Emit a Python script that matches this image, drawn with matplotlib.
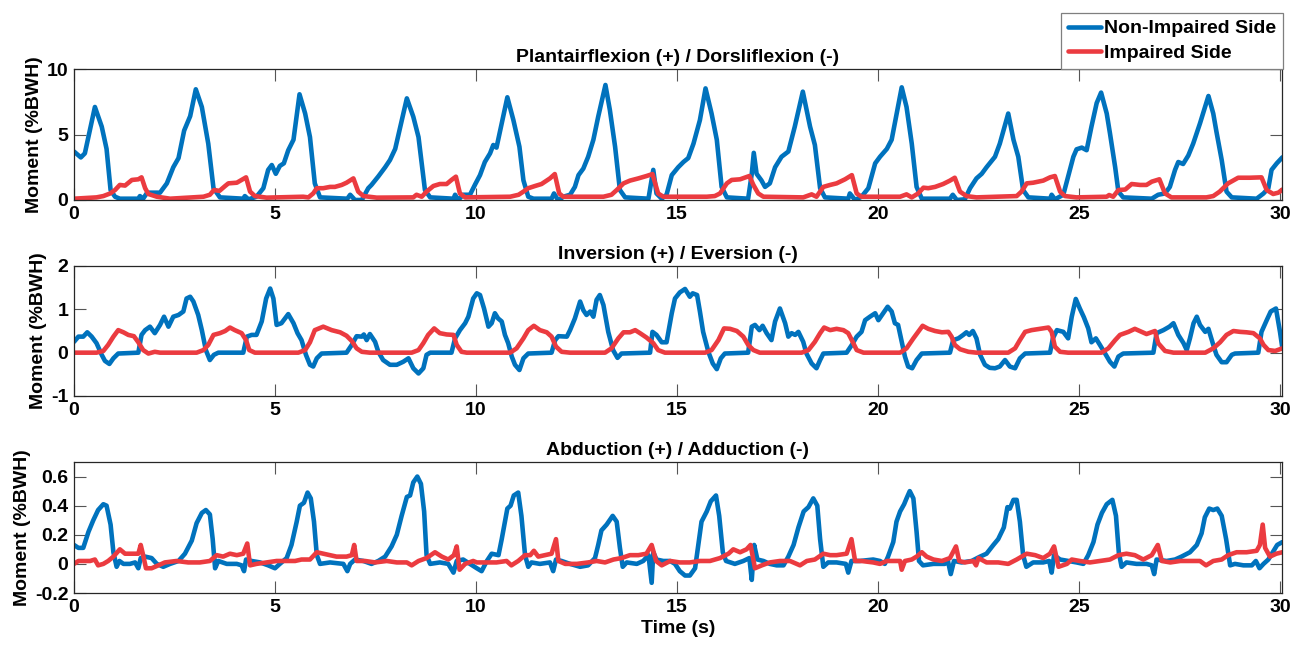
import numpy as np
import matplotlib
matplotlib.use('Agg')
from matplotlib import pyplot as plt

# values: (time [s], moment [%BWH])
pf_non = [(0, 3.7), (0.17, 3.25), (0.27, 3.56), (0.52, 7.1), (0.69, 5.6), (0.81, 3.9), (0.91, 0.76), (1.02, 0.25),
          (1.14, 0.1), (1.6, 0.1), (1.64, 0.3), (1.72, 0.1), (1.82, 0.56), (2.14, 0.56), (2.31, 1.27), (2.47, 2.5),
          (2.6, 3.2), (2.74, 5.3), (2.89, 6.4), (3.03, 8.45), (3.18, 7.1), (3.34, 4.3), (3.47, 0.9), (3.63, 0.2),
          (4.21, 0.1), (4.25, 0.3), (4.34, 0.05), (4.54, 0.25), (4.71, 0.9), (4.83, 2.3), (4.92, 2.67), (5.02, 2.0),
          (5.12, 2.6), (5.22, 2.8), (5.33, 3.8), (5.46, 4.6), (5.61, 8.07), (5.75, 6.6), (5.87, 4.8), (5.99, 1.27),
          (6.12, 0.2), (6.8, 0.1), (6.87, 0.4), (6.99, 0.0), (7.16, 0.0), (7.32, 0.9), (7.4, 1.15), (7.57, 1.8),
          (7.74, 2.5), (7.86, 3.05), (7.99, 3.9), (8.28, 7.76), (8.44, 6.36), (8.57, 4.8), (8.73, 0.76), (8.86, 0.2),
          (9.44, 0.1), (9.48, 0.4), (9.56, 0.0), (9.68, 0.4), (9.85, 0.4), (9.98, 1.2), (10.1, 1.9), (10.22, 2.9),
          (10.35, 3.56), (10.43, 4.2), (10.51, 4.0), (10.64, 5.85), (10.78, 7.84), (10.93, 6.1), (11.08, 4.07),
          (11.18, 1.5), (11.3, 0.25), (11.43, 0.1), (11.88, 0.1), (11.94, 0.5), (12.05, -0.05), (12.17, 0.25),
          (12.34, 0.4), (12.46, 1.0), (12.55, 1.9), (12.67, 2.4), (12.79, 3.3), (12.92, 4.6), (13.04, 6.36),
          (13.22, 8.78), (13.33, 6.87), (13.46, 4.07), (13.58, 0.76), (13.71, 0.2), (14.29, 0.1), (14.41, 2.3),
          (14.49, 0.5), (14.62, 0.1), (14.74, 0.4), (14.87, 1.9), (15.03, 2.5), (15.16, 2.9), (15.28, 3.2),
          (15.41, 4.3), (15.57, 6.1), (15.71, 8.52), (15.86, 6.6), (15.99, 4.6), (16.11, 1.0), (16.24, 0.2),
          (16.77, 0.1), (16.86, 2.0), (16.91, 3.6), (16.98, 2.0), (17.1, 1.5), (17.19, 1.0), (17.31, 1.27),
          (17.44, 2.5), (17.6, 3.3), (17.77, 3.7), (17.93, 5.6), (18.13, 8.27), (18.31, 5.6), (18.43, 4.2),
          (18.56, 0.9), (18.68, 0.2), (19.26, 0.1), (19.3, 0.5), (19.43, 0.0), (19.59, 0.25), (19.76, 0.9),
          (19.93, 2.8), (20.05, 3.3), (20.22, 3.9), (20.34, 4.6), (20.45, 6.36), (20.59, 8.6), (20.71, 7.1),
          (20.84, 4.3), (20.96, 1.0), (21.09, 0.1), (21.79, 0.1), (21.86, 0.4), (21.96, 0.0), (22.16, 0.05),
          (22.29, 0.9), (22.45, 1.65), (22.58, 2.0), (22.7, 2.5), (22.91, 3.3), (23.03, 4.3), (23.24, 6.6),
          (23.37, 4.6), (23.49, 3.3), (23.61, 0.76), (23.74, 0.2), (24.28, 0.1), (24.32, 0.4), (24.4, 0.05),
          (24.61, 0.4), (24.73, 1.8), (24.86, 3.3), (24.94, 3.87), (25.07, 4.0), (25.19, 3.8), (25.31, 5.6),
          (25.44, 7.4), (25.55, 8.2), (25.69, 6.6), (25.77, 5.1), (25.9, 2.5), (25.98, 0.64), (26.1, 0.2),
          (26.81, 0.1), (26.97, 0.4), (27.14, 0.5), (27.26, 1.0), (27.39, 2.3), (27.47, 2.9), (27.59, 2.75),
          (27.72, 3.4), (27.84, 4.3), (28.01, 5.85), (28.22, 7.94), (28.34, 6.6), (28.42, 5.2), (28.55, 3.05),
          (28.67, 0.64), (28.8, 0.2), (29.42, 0.1), (29.59, 0.5), (29.71, 0.9), (29.79, 2.3), (29.92, 2.8),
          (30.06, 3.26)]

pf_imp = [(0, 0.1), (0.56, 0.2), (0.73, 0.3), (0.9, 0.5), (1.02, 0.76), (1.14, 1.15), (1.27, 1.1), (1.44, 1.53),
          (1.6, 1.58), (1.68, 1.73), (1.77, 0.9), (1.85, 0.46), (2.06, 0.25), (2.39, 0.1), (3.22, 0.25), (3.38, 0.4),
          (3.48, 0.76), (3.62, 0.7), (3.76, 1.07), (3.84, 1.27), (4.05, 1.32), (4.17, 1.53), (4.28, 1.73),
          (4.38, 0.64), (4.5, 0.3), (4.79, 0.18), (5.7, 0.25), (5.83, 0.2), (5.95, 0.5), (6.04, 0.9), (6.2, 0.9),
          (6.37, 1.0), (6.49, 1.0), (6.66, 1.15), (6.78, 1.32), (6.95, 1.65), (7.07, 0.64), (7.2, 0.3), (7.53, 0.18),
          (8.44, 0.2), (8.52, 0.4), (8.65, 0.25), (8.77, 0.64), (8.94, 1.07), (9.1, 1.22), (9.27, 1.22),
          (9.39, 1.53), (9.5, 1.78), (9.6, 0.5), (9.73, 0.2), (10.85, 0.25), (11.06, 0.4), (11.18, 0.64),
          (11.3, 0.9), (11.47, 1.07), (11.63, 1.22), (11.84, 1.65), (11.96, 1.98), (12.07, 0.5), (12.17, 0.25),
          (13.17, 0.25), (13.37, 0.4), (13.5, 0.76), (13.67, 1.27), (13.83, 1.48), (14.04, 1.65), (14.24, 1.83),
          (14.39, 1.98), (14.53, 0.5), (14.66, 0.25), (15.74, 0.25), (15.94, 0.3), (16.07, 0.5), (16.24, 1.27),
          (16.36, 1.53), (16.57, 1.58), (16.8, 1.83), (16.9, 1.15), (17.02, 0.5), (17.15, 0.25), (18.14, 0.2),
          (18.35, 0.43), (18.47, 0.25), (18.64, 1.0), (18.81, 1.15), (18.97, 1.27), (19.18, 1.58), (19.35, 1.9),
          (19.47, 0.5), (19.59, 0.25), (20.55, 0.25), (20.71, 0.43), (20.84, 0.2), (21.0, 0.5), (21.13, 0.94),
          (21.25, 0.9), (21.42, 1.0), (21.62, 1.22), (21.79, 1.48), (21.91, 1.7), (22.04, 0.64), (22.2, 0.3),
          (22.45, 0.2), (23.45, 0.3), (23.57, 0.64), (23.7, 1.27), (23.86, 1.32), (24.11, 1.48), (24.28, 1.73),
          (24.4, 1.83), (24.53, 0.64), (24.65, 0.3), (24.94, 0.2), (25.69, 0.25), (25.75, 0.38), (25.85, 0.25),
          (25.98, 0.76), (26.15, 0.8), (26.31, 1.22), (26.52, 1.15), (26.68, 1.15), (26.81, 1.4), (27.0, 1.58),
          (27.14, 0.5), (27.3, 0.2), (28.17, 0.2), (28.34, 0.3), (28.5, 0.64), (28.71, 1.27), (28.96, 1.7),
          (29.25, 1.7), (29.54, 1.73), (29.67, 0.76), (29.83, 0.46), (29.96, 0.56), (30.06, 0.8)]

inv_non = [(0, 0.25), (0.11, 0.37), (0.23, 0.37), (0.33, 0.47), (0.44, 0.37), (0.56, 0.22), (0.69, -0.05),
           (0.77, -0.19), (0.88, -0.26), (0.98, -0.13), (1.1, -0.02), (1.6, 0.0), (1.68, 0.41), (1.77, 0.52),
           (1.89, 0.6), (2.01, 0.45), (2.14, 0.64), (2.24, 0.83), (2.35, 0.6), (2.47, 0.83), (2.6, 0.87),
           (2.72, 0.95), (2.8, 1.25), (2.89, 1.29), (2.97, 1.18), (3.09, 0.87), (3.18, 0.52), (3.28, 0.06),
           (3.38, -0.17), (3.48, -0.05), (3.59, 0.0), (4.21, 0.0), (4.3, 0.37), (4.42, 0.41), (4.54, 0.41),
           (4.67, 0.72), (4.78, 1.25), (4.88, 1.48), (4.96, 1.25), (5.04, 0.64), (5.16, 0.68), (5.33, 0.89),
           (5.46, 0.68), (5.56, 0.45), (5.66, 0.29), (5.77, -0.05), (5.87, -0.28), (5.95, -0.32), (6.04, -0.13),
           (6.16, -0.02), (6.78, 0.0), (6.91, 0.18), (7.03, 0.38), (7.16, 0.37), (7.21, 0.42), (7.28, 0.29),
           (7.36, 0.43), (7.49, 0.25), (7.57, 0.02), (7.69, -0.17), (7.86, -0.28), (8.03, -0.28), (8.19, -0.21),
           (8.32, -0.13), (8.44, -0.36), (8.57, -0.48), (8.69, -0.36), (8.77, -0.05), (8.86, 0.0), (9.39, 0.0),
           (9.48, 0.33), (9.6, 0.52), (9.73, 0.68), (9.81, 0.83), (9.93, 1.25), (10.02, 1.37), (10.1, 1.33),
           (10.2, 1.02), (10.31, 0.6), (10.39, 0.68), (10.47, 0.91), (10.55, 0.79), (10.64, 0.72), (10.72, 0.41),
           (10.8, 0.22), (10.89, -0.09), (10.97, -0.28), (11.08, -0.4), (11.18, -0.13), (11.3, -0.02), (11.88, 0.0),
           (11.97, 0.29), (12.05, 0.38), (12.26, 0.37), (12.34, 0.52), (12.46, 0.79), (12.59, 1.18), (12.67, 0.98),
           (12.75, 0.87), (12.84, 0.95), (12.92, 0.83), (13.0, 1.22), (13.08, 1.33), (13.17, 1.1), (13.29, 0.48),
           (13.41, 0.06), (13.52, -0.12), (13.62, -0.02), (14.33, 0.0), (14.39, 0.48), (14.49, 0.41), (14.62, 0.24),
           (14.74, 0.24), (14.87, 0.91), (14.95, 1.25), (15.07, 1.39), (15.2, 1.47), (15.32, 1.29), (15.39, 1.37),
           (15.5, 1.33), (15.57, 0.95), (15.65, 0.48), (15.78, 0.02), (15.89, -0.25), (15.99, -0.38), (16.09, -0.13),
           (16.19, -0.02), (16.77, 0.0), (16.86, 0.6), (16.94, 0.64), (17.05, 0.52), (17.13, 0.62), (17.23, 0.45),
           (17.35, 0.29), (17.44, 0.72), (17.56, 1.02), (17.69, 0.68), (17.77, 0.37), (17.85, 0.45), (17.94, 0.41),
           (18.02, 0.48), (18.14, 0.25), (18.22, -0.02), (18.35, -0.25), (18.47, -0.36), (18.56, -0.17),
           (18.64, -0.02), (19.22, 0.0), (19.35, 0.18), (19.47, 0.37), (19.59, 0.48), (19.68, 0.75), (19.8, 0.83),
           (19.93, 0.91), (20.01, 0.75), (20.13, 0.91), (20.24, 1.06), (20.34, 0.95), (20.42, 0.68), (20.5, 0.64),
           (20.59, 0.25), (20.67, -0.09), (20.75, -0.32), (20.85, -0.36), (20.96, -0.17), (21.09, -0.02),
           (21.79, 0.0), (21.87, 0.29), (22.0, 0.33), (22.12, 0.41), (22.2, 0.47), (22.27, 0.41), (22.36, 0.5),
           (22.45, 0.33), (22.54, -0.05), (22.66, -0.28), (22.78, -0.35), (22.91, -0.36), (23.03, -0.32),
           (23.16, -0.17), (23.28, -0.32), (23.41, -0.36), (23.53, -0.13), (23.66, -0.02), (24.28, 0.0),
           (24.35, 0.33), (24.45, 0.52), (24.61, 0.48), (24.73, 0.33), (24.82, 0.83), (24.92, 1.24), (25.02, 1.02),
           (25.12, 0.82), (25.23, 0.56), (25.31, 0.24), (25.42, 0.33), (25.52, 0.18), (25.65, -0.02), (25.77, -0.21),
           (25.88, -0.32), (25.98, -0.09), (26.1, -0.02), (26.85, 0.0), (26.93, 0.45), (27.1, 0.52), (27.25, 0.6),
           (27.35, 0.68), (27.47, 0.41), (27.6, 0.22), (27.68, 0.06), (27.76, 0.33), (27.85, 0.68), (27.93, 0.83),
           (28.01, 0.64), (28.14, 0.48), (28.22, 0.55), (28.34, 0.18), (28.42, -0.05), (28.55, -0.22),
           (28.67, -0.22), (28.8, -0.05), (28.88, -0.02), (29.46, 0.0), (29.54, 0.48), (29.67, 0.75), (29.77, 0.95),
           (29.9, 1.02), (30.0, 0.48), (30.06, 0.1)]

inv_imp = [(0, 0.0), (0.56, 0.0), (0.73, 0.04), (0.85, 0.18), (0.98, 0.37), (1.1, 0.52), (1.23, 0.47), (1.35, 0.41),
           (1.49, 0.38), (1.6, 0.24), (1.72, 0.06), (1.85, -0.02), (2.01, 0.02), (2.14, 0.0), (3.05, 0.0),
           (3.22, 0.06), (3.34, 0.18), (3.47, 0.41), (3.63, 0.45), (3.76, 0.5), (3.88, 0.58), (4.0, 0.52),
           (4.17, 0.45), (4.28, 0.29), (4.36, 0.06), (4.5, 0.0), (5.58, 0.0), (5.75, 0.06), (5.87, 0.24),
           (5.99, 0.52), (6.2, 0.6), (6.41, 0.52), (6.62, 0.47), (6.78, 0.39), (6.91, 0.27), (7.03, 0.1),
           (7.16, 0.02), (7.36, 0.0), (8.4, 0.0), (8.57, 0.06), (8.69, 0.22), (8.81, 0.41), (8.96, 0.56),
           (9.1, 0.45), (9.27, 0.42), (9.44, 0.41), (9.52, 0.18), (9.64, 0.02), (9.77, 0.0), (10.85, 0.0),
           (11.01, 0.1), (11.18, 0.33), (11.3, 0.52), (11.44, 0.62), (11.59, 0.52), (11.76, 0.47), (11.88, 0.37),
           (11.99, 0.14), (12.13, 0.02), (12.34, 0.0), (13.21, 0.0), (13.37, 0.1), (13.54, 0.33), (13.67, 0.47),
           (13.83, 0.47), (13.96, 0.52), (14.08, 0.45), (14.24, 0.35), (14.41, 0.22), (14.53, 0.06), (14.7, 0.0),
           (15.7, 0.0), (15.86, 0.06), (16.03, 0.29), (16.17, 0.56), (16.32, 0.55), (16.49, 0.5), (16.65, 0.37),
           (16.77, 0.18), (16.9, 0.06), (17.06, 0.0), (18.1, 0.0), (18.27, 0.06), (18.43, 0.25), (18.56, 0.45),
           (18.66, 0.58), (18.81, 0.52), (18.97, 0.55), (19.14, 0.52), (19.26, 0.45), (19.37, 0.25), (19.47, 0.06),
           (19.64, 0.0), (20.55, 0.0), (20.71, 0.1), (20.88, 0.33), (21.0, 0.48), (21.11, 0.62), (21.25, 0.55),
           (21.42, 0.5), (21.59, 0.47), (21.75, 0.48), (21.83, 0.37), (21.91, 0.18), (22.04, 0.08), (22.25, 0.02),
           (22.45, 0.0), (23.24, 0.0), (23.41, 0.1), (23.53, 0.29), (23.66, 0.48), (23.82, 0.52), (24.03, 0.55),
           (24.24, 0.58), (24.32, 0.48), (24.4, 0.14), (24.53, 0.02), (24.73, 0.0), (25.56, 0.0), (25.73, 0.1),
           (25.9, 0.29), (26.02, 0.41), (26.23, 0.48), (26.39, 0.55), (26.56, 0.48), (26.68, 0.43), (26.89, 0.5),
           (26.97, 0.22), (27.14, 0.04), (27.35, 0.0), (28.14, 0.0), (28.34, 0.1), (28.51, 0.24), (28.67, 0.41),
           (28.84, 0.5), (29.01, 0.48), (29.17, 0.47), (29.34, 0.45), (29.5, 0.33), (29.59, 0.18), (29.71, 0.06),
           (29.88, 0.04), (30.06, 0.1)]

abd_non = [(0, 0.13), (0.11, 0.11), (0.23, 0.11), (0.36, 0.22), (0.48, 0.3), (0.6, 0.37), (0.73, 0.41), (0.81, 0.4),
           (0.91, 0.27), (0.98, 0.08), (1.06, -0.02), (1.13, 0.02), (1.23, 0.0), (1.39, 0.0), (1.52, 0.01),
           (1.6, -0.03), (1.66, 0.04), (1.77, 0.05), (1.93, 0.04), (2.06, 0.0), (2.22, -0.02), (2.39, 0.0),
           (2.6, 0.02), (2.76, 0.07), (2.93, 0.16), (3.05, 0.28), (3.18, 0.35), (3.28, 0.37), (3.38, 0.34),
           (3.45, 0.17), (3.51, -0.03), (3.59, 0.02), (3.8, 0.0), (4.05, 0.0), (4.17, -0.01), (4.23, -0.05),
           (4.28, 0.03), (4.42, 0.02), (4.63, 0.01), (4.83, -0.01), (5.0, -0.03), (5.12, 0.0), (5.29, 0.04),
           (5.41, 0.13), (5.54, 0.29), (5.62, 0.4), (5.72, 0.42), (5.81, 0.49), (5.89, 0.45), (5.97, 0.29),
           (6.04, 0.06), (6.12, 0.0), (6.37, 0.01), (6.7, 0.0), (6.8, -0.05), (6.87, 0.0), (6.99, 0.03), (7.2, 0.02),
           (7.4, 0.0), (7.57, 0.02), (7.74, 0.05), (7.9, 0.12), (8.03, 0.2), (8.15, 0.33), (8.28, 0.46),
           (8.36, 0.47), (8.44, 0.56), (8.54, 0.6), (8.63, 0.55), (8.71, 0.36), (8.77, 0.06), (8.86, 0.0),
           (9.1, 0.01), (9.31, 0.0), (9.44, -0.06), (9.52, 0.02), (9.68, 0.03), (9.85, 0.0), (10.02, -0.03),
           (10.14, -0.05), (10.27, 0.02), (10.39, 0.07), (10.56, 0.06), (10.64, 0.17), (10.72, 0.29), (10.78, 0.38),
           (10.86, 0.4), (10.94, 0.47), (11.05, 0.49), (11.13, 0.33), (11.22, 0.06), (11.3, -0.02), (11.38, 0.01),
           (11.59, 0.0), (11.84, 0.01), (11.92, -0.05), (11.99, 0.03), (12.13, 0.02), (12.34, 0.0), (12.59, -0.02),
           (12.79, -0.01), (12.96, 0.04), (13.04, 0.13), (13.12, 0.23), (13.25, 0.27), (13.4, 0.33), (13.5, 0.29),
           (13.58, 0.11), (13.65, -0.02), (13.75, 0.01), (14.0, 0.0), (14.16, 0.02), (14.29, 0.06), (14.37, -0.13),
           (14.41, 0.08), (14.49, 0.03), (14.66, 0.02), (14.83, 0.02), (14.95, 0.0), (15.07, -0.05), (15.2, -0.08),
           (15.32, -0.08), (15.45, -0.03), (15.53, 0.13), (15.61, 0.29), (15.74, 0.36), (15.84, 0.43), (15.97, 0.47),
           (16.05, 0.33), (16.14, 0.08), (16.22, 0.02), (16.44, 0.0), (16.65, 0.02), (16.8, 0.04), (16.86, -0.11),
           (16.92, 0.13), (17.0, 0.03), (17.15, 0.02), (17.31, 0.0), (17.48, -0.01), (17.65, -0.01), (17.77, 0.05),
           (17.9, 0.13), (18.02, 0.25), (18.15, 0.36), (18.27, 0.39), (18.39, 0.45), (18.49, 0.4), (18.56, 0.17),
           (18.64, -0.02), (18.76, 0.01), (18.97, 0.01), (19.2, 0.0), (19.26, -0.06), (19.34, 0.02), (19.55, 0.02),
           (19.88, 0.03), (20.05, 0.02), (20.17, 0.0), (20.25, 0.05), (20.38, 0.15), (20.46, 0.29), (20.55, 0.36),
           (20.65, 0.41), (20.71, 0.45), (20.79, 0.5), (20.88, 0.45), (20.96, 0.22), (21.02, 0.02), (21.12, -0.01),
           (21.38, 0.0), (21.66, 0.0), (21.74, 0.02), (21.81, -0.07), (21.89, 0.02), (22.08, 0.01), (22.33, 0.02),
           (22.54, 0.05), (22.7, 0.07), (22.87, 0.13), (22.99, 0.17), (23.13, 0.25), (23.22, 0.39), (23.28, 0.38),
           (23.37, 0.44), (23.45, 0.44), (23.53, 0.29), (23.61, 0.06), (23.69, -0.02), (23.86, 0.01), (24.11, 0.01),
           (24.26, 0.02), (24.32, -0.06), (24.38, 0.06), (24.53, 0.03), (24.73, 0.02), (24.94, 0.01), (25.11, 0.0),
           (25.23, 0.06), (25.36, 0.15), (25.46, 0.27), (25.57, 0.35), (25.69, 0.41), (25.83, 0.44), (25.92, 0.33),
           (25.99, 0.08), (26.06, -0.02), (26.18, 0.01), (26.43, 0.0), (26.68, 0.0), (26.81, -0.01), (26.87, -0.07),
           (26.93, 0.03), (27.18, 0.02), (27.39, 0.03), (27.55, 0.05), (27.76, 0.08), (27.93, 0.13), (28.05, 0.21),
           (28.13, 0.32), (28.24, 0.38), (28.34, 0.37), (28.44, 0.38), (28.55, 0.33), (28.66, 0.17), (28.76, -0.01),
           (28.88, 0.0), (29.09, -0.01), (29.3, -0.01), (29.4, 0.02), (29.49, -0.03), (29.59, 0.0), (29.71, 0.03),
           (29.82, 0.08), (29.93, 0.13), (30.06, 0.15)]

abd_imp = [(0, 0.0), (0.11, 0.02), (0.23, 0.02), (0.4, 0.02), (0.52, 0.03), (0.6, -0.01), (0.73, 0.0), (0.85, 0.02),
           (0.98, 0.05), (1.14, 0.1), (1.27, 0.07), (1.48, 0.07), (1.6, 0.07), (1.66, 0.13), (1.72, 0.06),
           (1.79, -0.03), (1.93, -0.03), (2.1, -0.01), (2.26, 0.01), (2.55, 0.02), (2.84, 0.01), (3.13, 0.01),
           (3.38, 0.02), (3.55, 0.06), (3.71, 0.05), (3.88, 0.07), (4.05, 0.06), (4.21, 0.07), (4.31, 0.14),
           (4.38, -0.01), (4.54, 0.0), (4.79, 0.01), (5.04, 0.02), (5.29, 0.02), (5.5, 0.02), (5.66, 0.03),
           (5.87, 0.03), (6.04, 0.08), (6.2, 0.07), (6.37, 0.06), (6.53, 0.05), (6.78, 0.05), (6.91, 0.06),
           (6.97, 0.13), (7.03, 0.02), (7.24, 0.02), (7.49, 0.01), (7.78, 0.02), (8.03, 0.01), (8.28, 0.01),
           (8.4, -0.01), (8.57, 0.02), (8.77, 0.04), (8.98, 0.08), (9.15, 0.05), (9.31, 0.03), (9.45, 0.06),
           (9.52, 0.12), (9.59, -0.04), (9.73, 0.0), (9.93, 0.02), (10.02, 0.01), (10.27, 0.01), (10.51, 0.01),
           (10.76, 0.02), (10.88, -0.01), (11.05, 0.02), (11.22, 0.06), (11.35, 0.06), (11.44, 0.09), (11.55, 0.05),
           (11.72, 0.06), (11.88, 0.07), (11.99, 0.17), (12.05, 0.02), (12.22, 0.0), (12.51, 0.0), (12.79, 0.01),
           (13.0, 0.02), (13.21, 0.01), (13.42, 0.03), (13.62, 0.04), (13.83, 0.06), (14.04, 0.06), (14.24, 0.07),
           (14.37, 0.13), (14.48, 0.02), (14.62, -0.01), (14.83, 0.02), (15.07, 0.01), (15.32, 0.01), (15.57, 0.02),
           (15.82, 0.02), (16.07, 0.04), (16.28, 0.07), (16.4, 0.1), (16.57, 0.08), (16.73, 0.1), (16.83, 0.13),
           (16.94, -0.03), (17.11, -0.01), (17.31, 0.01), (17.56, 0.02), (17.81, 0.02), (18.06, -0.01),
           (18.23, 0.02), (18.43, 0.03), (18.64, 0.07), (18.81, 0.06), (18.97, 0.06), (19.22, 0.07), (19.34, 0.17),
           (19.43, 0.02), (19.59, 0.02), (19.88, 0.01), (20.05, 0.0), (20.22, 0.02), (20.42, 0.02), (20.55, 0.02),
           (20.59, -0.04), (20.67, 0.02), (20.84, 0.03), (20.96, 0.05), (21.09, 0.08), (21.21, 0.05), (21.38, 0.03),
           (21.59, 0.02), (21.79, 0.04), (21.94, 0.12), (22.02, 0.02), (22.16, 0.01), (22.37, 0.02), (22.44, -0.01),
           (22.5, 0.04), (22.7, 0.01), (22.99, 0.01), (23.24, 0.0), (23.45, 0.03), (23.7, 0.07), (23.91, 0.06),
           (24.11, 0.04), (24.28, 0.07), (24.38, 0.12), (24.49, -0.02), (24.7, 0.0), (24.82, 0.03), (25.02, 0.02),
           (25.27, 0.01), (25.52, 0.02), (25.77, 0.03), (25.98, 0.06), (26.18, 0.07), (26.39, 0.06), (26.6, 0.03),
           (26.81, 0.06), (26.96, 0.13), (27.06, 0.02), (27.27, 0.01), (27.52, 0.02), (27.81, 0.02), (28.01, 0.02),
           (28.16, -0.01), (28.34, 0.02), (28.55, 0.03), (28.71, 0.06), (28.92, 0.08), (29.17, 0.08), (29.42, 0.09),
           (29.5, 0.13), (29.57, 0.27), (29.63, 0.11), (29.75, 0.05), (29.91, 0.07), (30.06, 0.08)]

titles = ['Plantairflexion (+) / Dorsliflexion (-)',
          'Inversion (+) / Eversion (-)',
          'Abduction (+) / Adduction (-)']
ylims = [(0, 10), (-1, 2), (-0.2, 0.7)]
yticks = [[0, 5, 10], [-1, 0, 1, 2], [-0.2, 0, 0.2, 0.4, 0.6]]
ytick_labels = [['0', '5', '10'], ['-1', '0', '1', '2'], ['-0.2', '0', '0.2', '0.4', '0.6']]
xticks = [0, 5, 10, 15, 20, 25, 30]
labels = ['Non-Impaired Side', 'Impaired Side']

blue = '#0072BD'
red = '#EB3B40'

plt.rcParams['font.family'] = ['Liberation Sans', 'DejaVu Sans']
plt.rcParams['font.weight'] = 'bold'
plt.rcParams['axes.titleweight'] = 'bold'
plt.rcParams['axes.labelweight'] = 'bold'
plt.rcParams['font.size'] = 14

W, H = 1297, 653
fig = plt.figure(figsize=(W / 100, H / 100), dpi=100)

# axes boxes in pixels (top, bottom)
boxes = [(69, 200), (266, 396), (462, 593)]
left, right = 74, 1282
series = [(pf_non, pf_imp), (inv_non, inv_imp), (abd_non, abd_imp)]

for i, ((top, bot), (non, imp)) in enumerate(zip(boxes, series)):
    ax = fig.add_axes([left / W, 1 - bot / H, (right - left) / W, (bot - top) / H])
    t1, v1 = np.array(non).T
    t2, v2 = np.array(imp).T
    l1, = ax.plot(t1, v1, color=blue, lw=3.3, solid_joinstyle='round', solid_capstyle='round')
    l2, = ax.plot(t2, v2, color=red, lw=3.3, solid_joinstyle='round', solid_capstyle='round')
    ax.set_xlim(0, 30.05)
    ax.set_ylim(*ylims[i])
    ax.set_xticks(xticks)
    ax.set_xticklabels([str(x) for x in xticks])
    ax.set_yticks(yticks[i])
    ax.set_yticklabels(ytick_labels[i])
    ax.tick_params(direction='in', length=8.5, width=0.8, top=True, right=True,
                   color='#555555', labelcolor='black', labelsize=14, pad=4)
    for s in ax.spines.values():
        s.set_color('#262626')
        s.set_linewidth(0.9)
    ax.set_title(titles[i], fontsize=14, pad=5)
    ax.set_ylabel('Moment (%BWH)', fontsize=14, labelpad=3)
    if i == 2:
        ax.set_xlabel('Time (s)', fontsize=14, labelpad=3)

leg = fig.legend([l1, l2], labels, loc='upper right',
                 bbox_to_anchor=(1283 / W, 1 - 13 / H), bbox_transform=fig.transFigure,
                 borderaxespad=0, fancybox=False, framealpha=1, edgecolor='#7f7f7f',
                 handlelength=1.7, handletextpad=0.15, borderpad=0.35, labelspacing=0.35,
                 fontsize=14)
leg.get_frame().set_linewidth(0.9)

fig.savefig('out.png', dpi=100)
